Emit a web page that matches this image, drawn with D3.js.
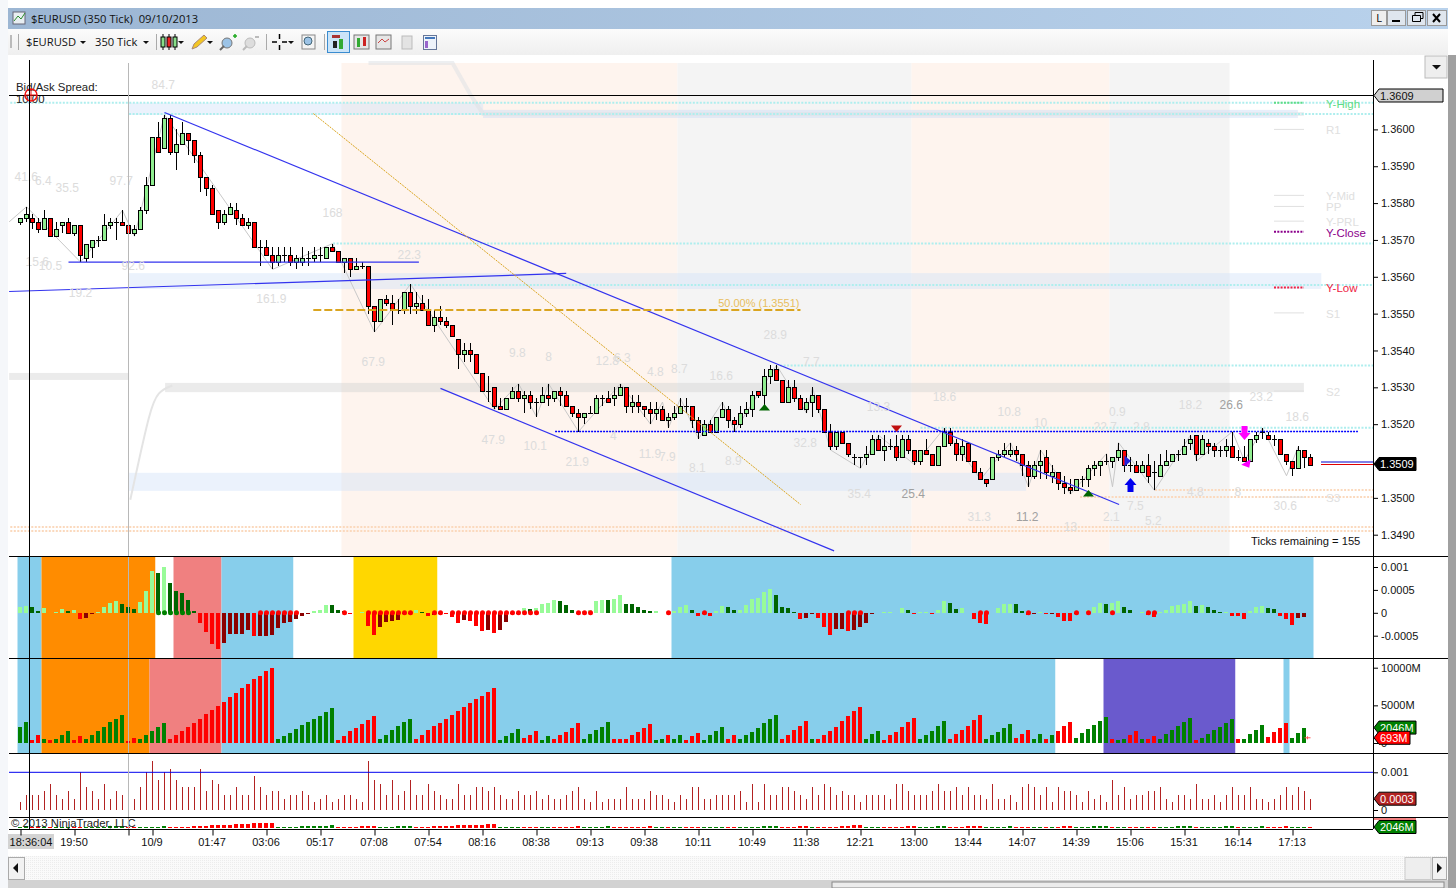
<!DOCTYPE html>
<html>
<head>
<meta charset="utf-8">
<title>$EURUSD (350 Tick)</title>
<script src="https://cdn.jsdelivr.net/npm/d3@7"></script>
<style>
  body { margin: 0; background: #fff; }
  svg { display: block; }
  text { font-family: "Liberation Sans", Arial, sans-serif; }
  .ui text, text.ui { font-family: "Open Sans", sans-serif; }
  .tick text { font-size: 11px; fill: #111; }
  .tick line { stroke: #000; }
</style>
</head>
<body>
<svg id="chart" width="1456" height="888"></svg>
<script>
// candles, in points above 1.3000 (350 tick bars, 4 decimals)
var openPts = [
  575,576,576,575,573,576,571,574,575,572, 574,565,568,570,570,574,575,575,574,572,
  573,578,585,598,595,603,594,596,599,597, 593,587,584,578,575,577,578,576,574,575,
  568,568,566,564,566,566,564,564,565,565, 566,565,568,567,564,565,562,563,563,552,
  548,554,553,551,551,556,552,553,551,547, 549,548,547,543,539,540,539,534,529,530,
  525,524,527,529,527,528,526,526,528,527, 529,528,525,523,522,523,523,527,527,527,
  528,530,525,526,525,524,523,524,521,522, 523,525,525,521,517,520,518,522,524,521,
  520,523,524,529,528,533,535,532,526,530, 527,524,526,528,524,518,514,518,515,511,
  511,511,512,516,513,514,514,511,516,513, 510,513,512,509,514,518,515,512,515,510,
  507,505,505,511,512,512,513,512,509,506, 509,511,506,507,504,503,502,505,505,508,
  509,510,510,511,513,509,509,507,509,507, 506,509,510,512,512,515,517,512,515,514,
  513,513,514,511,511,510,516,518,517,516, 516,512,510,508,513,511];
var highPts = [
  576,579,577,576,578,576,575,575,576,574, 574,569,570,571,577,576,576,578,576,574,
  579,587,598,602,604,604,600,602,599,597, 594,587,585,578,578,580,580,577,576,575,
  570,570,568,568,568,568,566,568,567,568, 568,568,569,567,565,565,565,564,563,552,
  554,555,555,554,556,558,556,555,554,551, 552,549,547,543,542,542,539,534,533,530,
  527,527,530,531,529,529,527,530,531,529, 530,529,525,524,523,525,528,528,529,530,
  531,530,528,528,525,526,526,525,523,525, 527,527,525,522,521,521,522,526,525,522,
  525,526,529,529,535,536,536,532,532,532, 528,527,530,528,524,520,518,518,515,512,
  511,514,517,517,517,516,517,517,517,513, 513,516,512,514,519,519,516,516,515,510,
  508,505,511,513,515,515,514,512,510,510, 513,513,509,507,506,505,505,506,509,510,
  510,512,511,515,513,511,510,510,512,510, 512,513,512,513,516,517,517,517,516,515,
  514,516,518,513,514,516,518,519,518,517, 516,512,510,514,513,512];
var lowPts = [
  574,575,573,572,573,571,571,572,572,571, 564,564,565,568,570,573,570,574,572,571,
  573,577,585,594,595,593,589,596,593,591, 583,582,577,573,574,577,574,574,573,568,
  563,566,562,563,564,563,562,563,563,564, 564,565,567,564,561,560,562,562,550,545,
  548,552,547,550,550,550,550,551,547,545, 547,546,544,535,537,537,534,529,526,524,
  524,524,527,526,523,524,522,526,525,526, 525,525,522,518,520,523,523,525,526,525,
  528,523,523,523,522,520,521,521,519,521, 523,523,519,516,517,518,518,522,519,518,
  519,522,522,527,525,531,532,526,526,526, 524,523,522,523,518,513,513,515,511,509,
  508,509,512,513,510,513,510,511,512,509, 509,512,509,509,514,514,510,510,510,507,
  505,503,505,510,511,511,510,506,503,505, 505,505,504,502,501,501,502,503,503,506,
  506,509,508,510,507,507,507,507,504,502, 506,509,510,510,512,513,510,512,512,511,
  511,511,511,510,510,510,515,516,516,514, 512,509,506,508,508,509];
var closePts = [
  576,577,575,573,576,571,573,575,572,574, 566,569,570,570,574,575,575,574,572,573,
  578,585,598,594,603,594,596,599,597,593, 587,584,577,575,577,579,576,574,575,568,
  568,566,564,566,566,564,565,565,565,566, 566,568,567,564,565,562,563,563,552,548,
  554,553,551,551,556,552,553,551,547,549, 548,547,544,539,540,539,534,529,529,525,
  524,527,529,527,528,526,526,528,527,529, 528,525,523,522,523,523,527,527,526,528,
  530,525,526,525,524,523,524,521,522,523, 525,525,521,518,520,518,522,524,521,520,
  523,524,528,528,533,535,532,526,530,527, 524,526,528,524,518,514,518,515,512,511,
  511,512,516,513,514,514,511,516,513,510, 513,512,509,514,518,515,512,514,510,507,
  505,504,511,512,513,513,512,509,506,509, 510,507,507,504,503,502,505,505,508,509,
  510,510,511,513,509,509,507,509,506,507, 509,510,512,512,514,516,512,516,514,513,
  513,514,511,511,510,516,517,518,516,516, 512,510,508,513,511,509];

// volume per bar, in millions, and up/down runs [side, number of bars]
var volumes = [
  2080,2750,350,1020,490,350,490,1020,1550,350, 890,490,1020,1550,2080,2750,3150,3680,220,620,
  490,1020,1550,2080,2610,490,1020,1550,2080,2610, 3150,3810,4340,4870,5400,6070,6600,7270,7800,8460,
  8860,9520,9920,490,890,1280,1820,2350,2750,3150, 3540,4080,4610,350,890,1550,1950,2480,3010,3540,
  490,1020,1680,2210,2750,3150,490,1020,1680,2210, 2610,3150,3680,4210,4740,5270,5800,6200,6730,7270,
  350,890,1280,1820,620,1020,1550,350,890,490, 1020,1420,1950,2610,490,1150,1680,2080,2750,490,
  490,490,1020,1420,1950,2480,350,490,1020,490, 1020,350,890,1280,350,1020,1550,2080,490,1020,
  490,1020,1420,1950,2610,3150,3680,490,1020,1680, 2210,2880,490,490,1020,1550,2080,2880,3540,4210,
  4740,490,1150,1550,350,1020,1420,2080,2750,3280, 490,1020,1550,2210,2880,490,1150,1680,2210,3010,
  3680,490,1020,1420,1950,2480,620,1150,1680,490, 1150,490,1020,1550,2210,2750,620,1280,1820,2350,
  2880,3410,490,350,490,1020,1550,490,490,890, 490,1150,1680,2210,2750,3280,350,620,1150,1680,
  2080,2610,3150,490,490,1150,1680,2350,750,1420, 1950,2610,620,1280,2046,693];
var volumeRuns = [
  ["G",2],["R",2],["G",1],["R",1],["G",3],["R",2],["G",7],["R",2],["G",5],["R",18],["G",10],["R",7],
  ["G",6],["R",14],["G",4],["R",3],["G",2],["R",5],["G",5],["R",7],["G",2],["R",1],["G",2],["R",3],
  ["G",4],["R",2],["G",7],["R",5],["G",1],["R",8],["G",3],["R",6],["G",5],["R",6],["G",5],["R",3],
  ["G",2],["R",1],["G",1],["R",3],["G",6],["R",1],["G",2],["R",2],["G",1],["R",2],["G",6],["R",1],
  ["G",6],["R",1],["G",4],["R",4],["G",3],["R",1]];

// histogram oscillator of the first lower panel
var oscValues = [
  .00012,.00015,.00012,.00005,.00011,0,.00001,.00009,.00004,.00007,
  -.00014,-.00012,-.00002,.00001,.00013,.00022,.00025,.0002,.00012,.00009,
  .00024,.00048,.00091,.00086,.00099,.00065,.00048,.00044,.00029,.00005,
  -.00023,-.00041,-.00068,-.00078,-.00067,-.00047,-.00047,-.00047,-.00038,-.00051,
  -.00051,-.00051,-.00049,-.00034,-.00023,-.00021,-.00013,-.00008,-.00002,.00004,
  .00007,.00016,.00016,.00007,.00003,-.00001,0,.00001,-.00029,-.00049,
  -.00032,-.0002,-.00017,-.00015,-.00002,-.00001,.00006,.00002,-.00007,-.00004,
  -.00001,-.00002,-.00009,-.00022,-.00016,-.00017,-.00028,-.0004,-.00038,-.00044,
  -.00038,-.0002,-.00001,-.00001,.0001,.00009,.0001,.0002,.00021,.00029,
  .00026,.00018,.00007,-.00001,.00004,.00007,.00025,.00029,.00028,.0003,
  .00038,.0002,.00019,.00012,.00007,.00003,.00004,0,0,.00004,
  .00013,.00016,.00006,-.00007,-.00003,-.00007,.00004,.00015,.00012,.00006,
  .00007,.00016,.0003,.00032,.00046,.00051,.00038,.00012,.00011,.00001,
  -.00013,-.00011,-.00002,-.00011,-.0003,-.00049,-.00035,-.00035,-.00039,-.00038,
  -.00032,-.00022,-.00001,0,.00001,.00002,0,.0001,.00007,-.00002,
  .00001,.00002,-.00002,.00007,.00026,.00022,.00009,.0001,0,-.00013,
  -.00022,-.00025,0,.0001,.00019,.0002,.00019,.00004,-.00004,-.00001,
  .00001,-.00002,-.00002,-.0001,-.00017,-.00018,-.00003,0,.00006,.00013,
  .00022,.00019,.00022,.00025,.00013,.00007,0,.00001,-.00004,-.00009,
  .00001,.00006,.00015,.00016,.0002,.00025,.00015,.00016,.00012,.00006,
  .00001,.00002,-.00006,-.00007,-.00013,.00004,.00012,.00015,.0001,.00009,
  -.00006,-.00013,-.00026,-.00012,-.0001,0];
var greenDots = [23,24,25,26,27,28];
var redDots = [40,41,42,43,44,45,46,54,58,59,60,61,62,63,64,65,69,70,72,73,74,75,76,77,78,79,80,81,82,83,84,85,86,
  93,94,95,108,114,138,139,140,160,161,168,176,178,182,188,189];

// range of each bar in points
var rangePts = [
  2,4,4,4,5,7,4,3,5,3, 10,6,5,3,7,3,5,4,3,3, 6,10,13,8,10,11,8,6,6,6, 11,5,8,7,4,4,6,4,4,9,
  6,4,5,5,3,4,4,5,4,2, 3,4,2,3,4,4,3,2,13,8, 7,4,8,4,5,8,4,4,7,5, 4,3,3,7,4,4,6,6,5,6,
  4,3,3,5,4,4,5,3,4,3, 3,4,5,6,3,2,5,2,3,3, 3,6,3,3,3,5,4,4,3,2, 4,3,6,6,3,3,4,4,4,4,
  5,2,7,2,7,4,4,6,6,5, 4,3,6,4,7,6,4,5,4,4, 2,4,4,4,4,3,7,7,5,4, 4,4,5,7,5,5,6,4,6,4,
  4,3,7,3,3,4,2,6,7,6, 4,6,2,6,5,5,4,2,5,3, 4,2,8,4,6,3,4,4,5,5, 6,3,2,4,4,3,7,3,3,4,
  2,4,6,4,4,6,3,3,2,3, 4,6,4,6,5,3];

// colour state of the lower panels: first bar of each stretch and its colour
var oscStateStarts = [0,4,23,26,34,46,56,70,109,216];
var oscStateColors = ["#87ceeb","#ff8c00","#fff","#f08080","#87ceeb","#fff","#ffd700","#fff","#87ceeb"];
var volStateStarts = [0,4,22,34,173,181,203,211,212];
var volStateColors = ["#87ceeb","#ff8c00","#f08080","#87ceeb","#fff","#6a5acd","#fff","#87ceeb"];

// trading sessions behind the candles
var sessionStarts = [53.5,109.5,148.5,181.5,201.5];
var sessionColors = ["#fef4ee","#f4f4f4","#fef4ee","#f4f4f4"];

// zones, levels and drawn lines, [bar, price]
var zoneStart = [18.1,77.1,18.1,18.1,24.1,-1.9];
var zoneEnd = [77.1,212.9,216.8,167.6,213.9,18.1];
var zoneHigh = [1.36072,1.36053,1.3561,1.35068,1.35312,1.35339];
var zoneLow = [1.36039,1.36031,1.35567,1.35019,1.35287,1.3532];
var zoneColors = ["#cfe0f7","#c9d9f2","#cfe0f7","#cfe0f7","#d0d0d0","#d0d0d0"];

var cyanLevels = [1.36072,1.36042,1.3569,1.35578,1.35359,1.3519];
var cyanStartBars = [-1.7,18.1,52.1,63.3,126.6,150];
var peachLevels = [1.35021,1.35002,1.34921,1.3491];
var peachStartBars = [189.1,176.6,-1.7,-1.7];

var pivotNames = ["Y-High","R1","Y-Mid","PP","Y-PRL","Y-Close","Y-Low","S1","S2","S3"];
var pivotPrices = [1.36072,1.36,1.35821,1.35791,1.35751,1.35722,1.35571,1.35502,1.3529,1.35002];
var pivotColors = ["#5fdc85","#e0e0e0","#e0e0e0","#e0e0e0","#e0e0e0","#8b008b","#ee2244","#e0e0e0","#e0e0e0","#e0e0e0"];

var blueLines = [
  [[24,1.36046],[183.1,1.34982]],
  [[70,1.35297],[135.6,1.34856]],
  [[8,1.3564],[66.4,1.3564]],
  [[-1.9,1.3556],[90.95,1.35609]]];
var supportLine = [[89.1,1.3518],[222.9,1.3518]];
var fibDiagonal = [[48.8,1.36043],[130,1.34982]];
var fibLevel = [[48.8,1.3551],[130,1.3551]];
var hiddenAverage = [[58,1.3618],[72,1.3618],[75,1.36094],[77.1,1.36042],[213.9,1.36042]];
var riseCurve = [[18.3,1.34995],[19.1,1.35054],[21.6,1.3524],[22.9,1.35289],[25.3,1.35305]];

// zigzag swing points
var zigBars = [-1.9,1,10,17,19,24,42,52,59,65,79,83,86,88,93,100,105,107,108,110,113,117,119,126,131,132,135,
  140,143,149,154,160,165,168,170,175,181,182,183,189,195,196,202,204,207,211,213];
var zigPrices = [1.35749,1.3579,1.3564,1.3578,1.3571,1.3604,1.3562,1.3569,1.3545,1.3558,1.3524,1.3531,1.3522,1.3531,
  1.3518,1.3531,1.352,1.3526,1.3519,1.3527,1.3516,1.3526,1.3518,1.3536,1.3523,1.353,1.3513,1.3508,1.3517,1.3509,
  1.3519,1.3505,1.3515,1.3503,1.3513,1.3501,1.3512,1.3503,1.3515,1.3502,1.3517,1.351,1.3518,1.351,1.3519,1.3506,1.3514];

// swing size labels
var swingText = ["84.7","41.6","6.4","35.5","97.7","168","15.6","10.5","92.6","22.3","19.2","161.9","67.9","9.8","8",
  "12.8","6.3","4.8","8.7","16.6","28.9","7.7","47.9","10.1","4","21.9","11.9","7.9","8.1","8.9","32.8","13.3","18.6",
  "10.8","10","22.7","2.8","0.9","18.2","26.6","23.2","18.6","35.4","25.4","31.3","11.2","13","2.1","7.5","5.2","4.8","8","30.6"];
var swingBars = [23.8,.95,3.8,7.8,16.8,52,2.8,5,18.8,64.8,10,41.8,58.8,82.8,88,97.8,100.3,105.8,109.8,116.8,125.8,131.8,
  78.8,85.8,98.8,92.8,104.9,107.8,112.8,118.8,130.8,143,154,164.8,170,180.8,186.8,182.8,195,201.8,206.8,212.8,139.8,
  148.8,159.8,167.8,175,181.8,185.8,188.8,195.8,202.9,210.8];
var swingPrices = [1.3612,1.35871,1.3586,1.35841,1.3586,1.35773,1.3564,1.35629,1.35629,1.35659,1.35556,1.3554,1.35369,
  1.35393,1.35382,1.35371,1.3538,1.35342,1.3535,1.35331,1.35442,1.35369,1.35157,1.35141,1.35168,1.35097,1.35119,1.35111,
  1.35081,1.351,1.35149,1.35247,1.35274,1.35233,1.35203,1.35192,1.35192,1.35233,1.35252,1.35252,1.35274,1.3522,1.35011,
  1.35011,1.34948,1.34948,1.34921,1.34948,1.34978,1.34937,1.35016,1.35016,1.34978];
var strongSwings = ["25.4","11.2","26.6"];

// time axis
var timeBars = [0,9,18,22,32,41,50,59,68,77,86,95,104,113,122,131,140,149,158,167,176,185,194,203,212];
var timeLabels = ["18:36:04","19:50","","10/9","01:47","03:06","05:17","07:08","07:54","08:16","08:38","09:13","09:38",
  "10:11","10:49","11:38","12:21","13:00","13:44","14:07","14:39","15:06","15:31","16:14","17:13"];

// 1.3510 sits under the last price tag
var priceTicks = [1.36,1.359,1.358,1.357,1.356,1.355,1.354,1.353,1.352,1.35,1.349];
var oscTicks = [0.001,0.0005,0,-0.0005];
var oscTickLabels = ["0.001","0.0005","0","-0.0005"];
var volTicks = [10000,5000,0];
var rangeTicks = [10,0];

var candleOpen = openPts.map(toPrice), candleHigh = highPts.map(toPrice);
var candleLow = lowPts.map(toPrice), candleClose = closePts.map(toPrice);

function toPrice(p) { return 1.3 + p / 10000; }

var svg = d3.select("#chart");
var AXIS_X = 1373, LEFT = 9, RIGHT_EDGE = 1448;

var x = d3.scaleLinear().domain([0, 215]).range([20.5, 1310.5]);
var yPrice = d3.scaleLinear().domain([1.349, 1.36]).range([534.7, 129.4]);
var yOsc = d3.scaleLinear().domain([-0.0005, 0.001]).range([635.7, 567]);
var yVol = d3.scaleLinear().domain([0, 10000]).range([743, 667.7]);
var yRange = d3.scaleLinear().domain([0, 10]).range([810, 772.3]);
var yMini = d3.scaleLinear().domain([0, 10000]).range([827.6, 822.6]);

var volumeSide = [];
volumeRuns.forEach(function (r) { for (var k = 0; k < r[1]; k++) volumeSide.push(r[0]); });

var priceLine = d3.line().x(function (d) { return x(d[0]); }).y(function (d) { return yPrice(d[1]); });

function DrawWindow() {
    var defs = svg.append("defs");
    var t = defs.append("linearGradient").attr("id", "titleGrad");
    t.append("stop").attr("offset", "0").attr("stop-color", "#9cb6d3");
    t.append("stop").attr("offset", "1").attr("stop-color", "#b9d2ec");
    var b = defs.append("linearGradient").attr("id", "barGrad").attr("x2", 0).attr("y2", 1);
    b.append("stop").attr("offset", "0").attr("stop-color", "#fbfbfb");
    b.append("stop").attr("offset", "1").attr("stop-color", "#efefef");
    var h = defs.append("pattern").attr("id", "hatch").attr("width", 2).attr("height", 2).attr("patternUnits", "userSpaceOnUse");
    h.append("rect").attr("width", 2).attr("height", 2).attr("fill", "#fafafa");
    h.append("rect").attr("width", 1).attr("height", 1).attr("fill", "#ececec");

    var ui = svg.append("g").attr("class", "ui");
    ui.append("rect").attr("x", 0).attr("y", 0).attr("width", 8).attr("height", 888).attr("fill", "#f5f7fa");
    ui.append("rect").attr("x", 8).attr("y", 8).attr("width", 1440).attr("height", 21).attr("fill", "url(#titleGrad)");
    ui.append("rect").attr("x", 8).attr("y", 29).attr("width", 1440).attr("height", 26).attr("fill", "url(#barGrad)");
    ui.append("rect").attr("x", 1448).attr("y", 55).attr("width", 8).attr("height", 833).attr("fill", "#a0a0a0");

    // title
    ui.append("rect").attr("x", 13).attr("y", 12).attr("width", 12).attr("height", 12).attr("fill", "#e8eef2").attr("stroke", "#667");
    ui.append("path").attr("d", "M14,21L18,16L21,19L25,13").attr("fill", "none").attr("stroke", "#2a8c2a");
    ui.append("text").attr("x", 31).attr("y", 22.5).attr("font-size", 11.2).attr("fill", "#111").text("$EURUSD (350 Tick)\u00a0 09/10/2013");

    // window buttons
    var bx = [1371, 1387, 1407, 1427], bw = [15, 18, 18, 19];
    bx.forEach(function (v, i) {
        ui.append("rect").attr("x", v + .5).attr("y", 10.5).attr("width", bw[i]).attr("height", 15)
            .attr("fill", i == 0 ? "#eee" : "#dfe6ee").attr("stroke", "#999");
    });
    ui.append("text").attr("x", 1379).attr("y", 22).attr("text-anchor", "middle").attr("font-size", 11).text("L");
    ui.append("rect").attr("x", 1392).attr("y", 20).attr("width", 8).attr("height", 2).attr("fill", "#000");
    ui.append("path").attr("d", "M1412.5,15.5h8v6h-8zM1415,15v-2.5h8v6h-2").attr("fill", "none").attr("stroke", "#000");
    ui.append("path").attr("d", "M1433,14l7,8M1440,14l-7,8").attr("stroke", "#000").attr("stroke-width", 2);

    // toolbar
    ui.append("text").attr("x", 26).attr("y", 46).attr("font-size", 11.2).attr("fill", "#111").text("$EURUSD");
    ui.append("text").attr("x", 95).attr("y", 46).attr("font-size", 11.2).attr("fill", "#111").text("350 Tick");
    [83, 146, 181, 210, 291].forEach(function (v) {
        ui.append("path").attr("d", "M" + (v - 3) + ",41h6l-3,3z").attr("fill", "#111");
    });
    [18, 156, 266, 324].forEach(function (v) {
        ui.append("rect").attr("x", v).attr("y", 34).attr("width", 1).attr("height", 16).attr("fill", "#aaa");
    });
    ui.append("rect").attr("x", 10).attr("y", 35).attr("width", 2).attr("height", 13).attr("fill", "#bbb");
    [163, 169, 175].forEach(function (v, i) {
        ui.append("line").attr("x1", v).attr("x2", v).attr("y1", 34).attr("y2", 50).attr("stroke", "#000");
        ui.append("rect").attr("x", v - 2).attr("y", 37).attr("width", 4).attr("height", 10)
            .attr("fill", i == 1 ? "#e22" : "#8d8").attr("stroke", "#000");
    });
    ui.append("path").attr("d", "M192,49l2,-5l10,-9l3,3l-10,9z").attr("fill", "#f3c623").attr("stroke", "#a87");
    ui.append("circle").attr("cx", 227).attr("cy", 43).attr("r", 5).attr("fill", "#9cc3e6").attr("stroke", "#777");
    ui.append("path").attr("d", "M224,46l-4,4").attr("stroke", "#666").attr("stroke-width", 2);
    ui.append("path").attr("d", "M233,36h4M235,34v4").attr("stroke", "#2a2").attr("stroke-width", 1.5);
    ui.append("circle").attr("cx", 250).attr("cy", 43).attr("r", 5).attr("fill", "#ddd").attr("stroke", "#bbb");
    ui.append("path").attr("d", "M247,46l-4,4M255,37h4").attr("stroke", "#bbb").attr("stroke-width", 2);
    ui.append("path").attr("d", "M272,42h5M282,42h5M279.5,34v5M279.5,45v5").attr("stroke", "#000").attr("stroke-width", 1.5);
    ui.append("rect").attr("x", 302).attr("y", 35).attr("width", 13).attr("height", 14).attr("fill", "#f4f4f4").attr("stroke", "#888");
    ui.append("circle").attr("cx", 308).attr("cy", 41).attr("r", 4).attr("fill", "#9cc3e6").attr("stroke", "#467");
    ui.append("rect").attr("x", 327.5).attr("y", 31.5).attr("width", 22).attr("height", 21).attr("fill", "#cbe4f8").attr("stroke", "#3a8cd0");
    ui.append("rect").attr("x", 332).attr("y", 35).attr("width", 8).attr("height", 3).attr("fill", "#a33");
    ui.append("rect").attr("x", 339).attr("y", 39).attr("width", 4).attr("height", 10).attr("fill", "#3a3");
    ui.append("rect").attr("x", 333).attr("y", 41).attr("width", 4).attr("height", 7).attr("fill", "#222");
    ui.append("rect").attr("x", 354).attr("y", 35).attr("width", 15).attr("height", 14).attr("fill", "#e6e6e6").attr("stroke", "#777");
    ui.append("rect").attr("x", 357).attr("y", 38).attr("width", 3).attr("height", 9).attr("fill", "#3a3");
    ui.append("rect").attr("x", 363).attr("y", 37).attr("width", 3).attr("height", 9).attr("fill", "#c22");
    ui.append("rect").attr("x", 376).attr("y", 35).attr("width", 15).attr("height", 14).attr("fill", "#e6e6e6").attr("stroke", "#777");
    ui.append("path").attr("d", "M378,43l4,-4l3,3l4,-3").attr("fill", "none").attr("stroke", "#c44");
    ui.append("rect").attr("x", 402).attr("y", 36).attr("width", 10).attr("height", 13).attr("fill", "#e3e3e3").attr("stroke", "#bbb");
    ui.append("rect").attr("x", 423.5).attr("y", 35.5).attr("width", 13).attr("height", 14).attr("fill", "#eef3fa").attr("stroke", "#667799");
    ui.append("rect").attr("x", 425).attr("y", 37).attr("width", 10).attr("height", 2).attr("fill", "#4477bb");
    ui.append("rect").attr("x", 425).attr("y", 41).attr("width", 3).attr("height", 7).attr("fill", "#9966cc");

    // drop down at the top right of the price scale
    ui.append("rect").attr("x", 1425).attr("y", 56).attr("width", 22).attr("height", 22).attr("fill", "#eee").attr("stroke", "#bbb");
    ui.append("path").attr("d", "M1432,65h9l-4.5,4.5z").attr("fill", "#111");

    // scroll bar
    ui.append("rect").attr("x", 8).attr("y", 856).attr("width", 1440).attr("height", 24).attr("fill", "url(#hatch)");
    ui.append("rect").attr("x", 8.5).attr("y", 857.5).attr("width", 16).attr("height", 22).attr("fill", "#f2f2f2").attr("stroke", "#aaa");
    ui.append("path").attr("d", "M18,863v10l-5,-5z").attr("fill", "#111");
    ui.append("rect").attr("x", 1405).attr("y", 857.5).attr("width", 26).attr("height", 22).attr("fill", "#eee").attr("stroke", "#ccc");
    ui.append("rect").attr("x", 1432.5).attr("y", 857.5).attr("width", 14).attr("height", 22).attr("fill", "#f2f2f2").attr("stroke", "#aaa");
    ui.append("path").attr("d", "M1437,863v10l5,-5z").attr("fill", "#111");
    ui.append("rect").attr("x", 8).attr("y", 880).attr("width", 1440).attr("height", 8).attr("fill", "#d2d2d2");
    ui.append("rect").attr("x", 832).attr("y", 882).attr("width", 612).attr("height", 6).attr("fill", "#ececec").attr("stroke", "#888");
}

function DrawPricePanel() {
    var g = svg.append("g");

    // sessions
    g.selectAll("rect.session").data(sessionColors).enter().append("rect")
        .attr("class", "session")
        .attr("x", function (d, i) { return x(sessionStarts[i]); })
        .attr("width", function (d, i) { return x(sessionStarts[i + 1]) - x(sessionStarts[i]); })
        .attr("y", 63).attr("height", 493)
        .attr("fill", function (d) { return d; });

    // zones
    g.selectAll("rect.zone").data(zoneColors).enter().append("rect")
        .attr("class", "zone")
        .attr("x", function (d, i) { return x(zoneStart[i]); })
        .attr("width", function (d, i) { return x(zoneEnd[i]) - x(zoneStart[i]); })
        .attr("y", function (d, i) { return yPrice(zoneHigh[i]); })
        .attr("height", function (d, i) { return yPrice(zoneLow[i]) - yPrice(zoneHigh[i]); })
        .attr("fill", function (d) { return d; })
        .attr("opacity", 0.42);

    g.append("path").attr("d", priceLine(hiddenAverage)).attr("fill", "none")
        .attr("stroke", "#dfe2e6").attr("stroke-width", 4).attr("opacity", 0.55);
    g.append("path").attr("d", d3.line().x(function (d) { return x(d[0]); }).y(function (d) { return yPrice(d[1]); })
        .curve(d3.curveBasis)(riseCurve)).attr("fill", "none").attr("stroke", "#e4e4e4").attr("stroke-width", 2);

    // dotted levels
    g.selectAll("line.cyan").data(cyanLevels).enter().append("line")
        .attr("x1", function (d, i) { return x(cyanStartBars[i]); }).attr("x2", AXIS_X)
        .attr("y1", function (d) { return yPrice(d); }).attr("y2", function (d) { return yPrice(d); })
        .attr("stroke", "#aeeeee").attr("stroke-width", 2).attr("stroke-dasharray", "2 1.5");
    g.selectAll("line.peach").data(peachLevels).enter().append("line")
        .attr("x1", function (d, i) { return x(peachStartBars[i]); }).attr("x2", AXIS_X)
        .attr("y1", function (d) { return yPrice(d); }).attr("y2", function (d) { return yPrice(d); })
        .attr("stroke", "#fbd9bd").attr("stroke-width", 2).attr("stroke-dasharray", "2 1.5");

    // pivots on the right
    pivotNames.forEach(function (name, i) {
        var py = yPrice(pivotPrices[i]);
        var strong = pivotColors[i] != "#e0e0e0";
        g.append("line").attr("x1", 1274).attr("x2", 1304).attr("y1", py).attr("y2", py)
            .attr("stroke", pivotColors[i]).attr("stroke-width", strong ? 2 : 1)
            .attr("stroke-dasharray", strong ? "2 1.3" : null);
        g.append("text").attr("x", 1326).attr("y", py + 5).attr("font-size", 11.5)
            .attr("fill", pivotColors[i]).text(name);
    });

    // zigzag
    var zig = zigBars.map(function (b, i) { return [b, zigPrices[i]]; });
    g.append("path").attr("d", priceLine(zig)).attr("fill", "none").attr("stroke", "#c8c8c8").attr("stroke-width", 1);

    // candles
    var bars = g.selectAll("g.bar").data(candleOpen).enter().append("g").attr("class", "bar");
    bars.append("line")
        .attr("x1", function (d, i) { return x(i); }).attr("x2", function (d, i) { return x(i); })
        .attr("y1", function (d, i) { return Math.round(yPrice(candleHigh[i])); })
        .attr("y2", function (d, i) { return Math.round(yPrice(candleLow[i])); })
        .attr("stroke", "#000");
    bars.each(function (o, i) {
        var top = Math.round(yPrice(Math.max(o, candleClose[i]))) + .5;
        var bottom = Math.round(yPrice(Math.min(o, candleClose[i]))) + .5;
        if (openPts[i] == closePts[i]) {
            d3.select(this).append("line").attr("x1", x(i) - 2.5).attr("x2", x(i) + 2.5)
                .attr("y1", top).attr("y2", top).attr("stroke", "#000");
        } else {
            d3.select(this).append("rect").attr("x", x(i) - 2).attr("y", top).attr("width", 4).attr("height", bottom - top)
                .attr("fill", closePts[i] > openPts[i] ? "#90ee90" : "#ff0000").attr("stroke", "#000");
        }
    });

    // drawn lines
    blueLines.forEach(function (l) {
        g.append("path").attr("d", priceLine(l)).attr("stroke", "#3333ee").attr("stroke-width", 1.2).attr("fill", "none");
    });
    g.append("path").attr("d", priceLine(supportLine)).attr("stroke", "#0000ff").attr("stroke-width", 1.4).attr("stroke-dasharray", "2 1").attr("fill", "none");
    g.append("path").attr("d", priceLine(fibDiagonal)).attr("stroke", "#daa520").attr("stroke-dasharray", "2 1").attr("fill", "none");
    g.append("path").attr("d", priceLine(fibLevel)).attr("stroke", "#daa520").attr("stroke-width", 2).attr("stroke-dasharray", "8 3").attr("fill", "none");
    g.append("text").attr("x", x(fibLevel[1][0]) - 1).attr("y", yPrice(fibLevel[1][1]) - 3).attr("text-anchor", "end")
        .attr("font-size", 11).attr("fill", "#e8be5e").text("50.00% (1.3551)");

    // swing labels
    g.selectAll("text.swing").data(swingText).enter().append("text")
        .attr("class", "swing")
        .attr("x", function (d, i) { return x(swingBars[i]); })
        .attr("y", function (d, i) { return yPrice(swingPrices[i]) + 4; })
        .attr("text-anchor", "middle").attr("font-size", 12)
        .attr("fill", function (d) { return strongSwings.indexOf(d) >= 0 ? "#a0a0a0" : "#dcdcdc"; })
        .text(function (d) { return d; });

    // signal markers
    Marker(g, 124, 1.35245, "#006400", 0);
    Marker(g, 178, 1.35012, "#006400", 0);
    Marker(g, 146, 1.35188, "#c01010", 180);
    Marker(g, 184.5, 1.351, "#2222dd", 90);
    Marker(g, 204.5, 1.3509, "#ff00ff", 150);
    Arrow(g, 185, 1.35054, "#0000ee", 1);
    Arrow(g, 204, 1.35157, "#ff00ff", -1);

    // bid/ask text and crosshair
    g.append("text").attr("x", 16).attr("y", 91).attr("font-size", 11.4).attr("fill", "#222").text("Bid/Ask Spread:");
    g.append("text").attr("x", 16).attr("y", 103).attr("font-size", 11.4).attr("fill", "#222").text("10.00");
    g.append("line").attr("x1", LEFT).attr("x2", AXIS_X).attr("y1", 95.5).attr("y2", 95.5).attr("stroke", "#000");
    g.append("circle").attr("cx", 31).attr("cy", 95).attr("r", 6).attr("fill", "none").attr("stroke", "#ee1111").attr("stroke-width", 1.5);
    g.append("path").attr("d", "M25,95h12M31,89v12").attr("stroke", "#ee1111");

    g.append("text").attr("x", 1251).attr("y", 545).attr("font-size", 11.2).attr("fill", "#111").text("Ticks remaining = 155");

    // last price stubs
    g.append("line").attr("x1", 1321).attr("x2", AXIS_X).attr("y1", 462).attr("y2", 462).attr("stroke", "#0000cc");
    g.append("line").attr("x1", 1321).attr("x2", AXIS_X).attr("y1", 464.5).attr("y2", 464.5).attr("stroke", "#e00000");

    g.append("g").attr("transform", "translate(" + AXIS_X + ",0)")
        .call(d3.axisRight(yPrice).tickValues(priceTicks).tickFormat(d3.format(".4f")).tickSize(5).tickPadding(3))
        .call(function (a) { a.select(".domain").remove(); });

    Tag(95.5, 1443, "#d0d0d0", "#000", "1.3609", "#111");
    Tag(464, 1416, "#000", "#000", "1.3509", "#fff");
}

// flat triangle, rotated to point the way the signal goes
function Marker(g, bar, price, color, angle) {
    g.append("path").attr("d", "M0,-3.5L5.5,3H-5.5Z")
        .attr("transform", "translate(" + x(bar) + "," + yPrice(price) + ") rotate(" + angle + ")")
        .attr("fill", color);
}

function Arrow(g, bar, price, color, dir) {
    var s = dir;
    var p = "M0,0L6," + (7 * s) + "L3," + (7 * s) + "L3," + (14 * s) + "L-3," + (14 * s) + "L-3," + (7 * s) + "L-6," + (7 * s) + "Z";
    g.append("path").attr("d", p).attr("fill", color)
        .attr("transform", "translate(" + x(bar) + "," + yPrice(price) + ")");
}

function Tag(y, right, fill, stroke, label, color) {
    var left = AXIS_X + 1;
    var g = svg.append("g");
    g.append("path")
        .attr("d", "M" + left + "," + y + "l5,-6.5H" + right + "v13H" + (left + 5) + "z")
        .attr("fill", fill).attr("stroke", stroke);
    g.append("text").attr("x", left + 6).attr("y", y + 4).attr("font-size", 11).attr("fill", color).text(label);
}

function StateBands(starts, colors, top, bottom) {
    svg.append("g").selectAll("rect").data(colors).enter().append("rect")
        .attr("x", function (d, i) { return x(starts[i] - .5); })
        .attr("width", function (d, i) { return x(starts[i + 1] - .5) - x(starts[i] - .5); })
        .attr("y", top).attr("height", bottom - top)
        .attr("fill", function (d) { return d; });
}

function RightAxis(scale, ticks, format) {
    svg.append("g").attr("transform", "translate(" + AXIS_X + ",0)")
        .call(d3.axisRight(scale).tickValues(ticks).tickFormat(format).tickSize(5).tickPadding(3))
        .call(function (a) { a.select(".domain").remove(); });
}

function DrawOscillator() {
    StateBands(oscStateStarts, oscStateColors, 556, 658);
    var g = svg.append("g").attr("shape-rendering", "crispEdges");
    g.selectAll("rect").data(oscValues).enter().append("rect")
        .attr("x", function (d, i) { return Math.floor(x(i)) - 2; })
        .attr("width", 4)
        .attr("y", function (d) { return yOsc(Math.max(d, 0)); })
        .attr("height", function (d) { return d == 0 ? 0 : Math.max(1, Math.abs(yOsc(d) - yOsc(0))); })
        .attr("fill", function (d, i) {
            var prev = i ? oscValues[i - 1] : 0;
            if (d > 0) return d > prev ? "#98fb98" : "#006400";
            return d < prev ? "#ff0000" : "#8b0000";
        });
    var dots = svg.append("g");
    dots.selectAll("circle.g").data(greenDots).enter().append("circle")
        .attr("cx", function (d) { return x(d); }).attr("cy", yOsc(0)).attr("r", 2.5).attr("fill", "#008000");
    dots.selectAll("circle.r").data(redDots).enter().append("circle")
        .attr("cx", function (d) { return x(d); }).attr("cy", yOsc(0)).attr("r", 2.5).attr("fill", "#ff0000");
    RightAxis(yOsc, oscTicks, function (d, i) { return oscTickLabels[i]; });
}

function DrawVolume() {
    StateBands(volStateStarts, volStateColors, 658, 753);
    var last = volumes.length - 1;
    var g = svg.append("g").attr("shape-rendering", "crispEdges");
    g.selectAll("rect").data(volumes.slice(0, last)).enter().append("rect")
        .attr("x", function (d, i) { return Math.floor(x(i)) - 2; })
        .attr("width", 4)
        .attr("y", function (d) { return yVol(d); })
        .attr("height", function (d) { return yVol(0) - yVol(d); })
        .attr("fill", function (d, i) { return volumeSide[i] == "G" ? "#008000" : "#ff0000"; });
    // bar still being built
    svg.append("path").attr("d", "M" + (x(last) - 6) + "," + yVol(volumes[last]) + "h6M" + (x(last) - 3) + "," + (yVol(volumes[last]) - 1.5) + "v3")
        .attr("stroke", "#ff5555").attr("fill", "none");
    RightAxis(yVol, volTicks, function (d) { return d ? d + "M" : "0"; });
    Tag(yVol(volumes[last - 1]), 1416, "#008000", "#000", "2046M", "#fff");
    Tag(yVol(volumes[last]), 1410, "#ff0000", "#000", "693M", "#fff");
}

function DrawRange() {
    svg.append("g").attr("shape-rendering", "crispEdges").selectAll("line").data(rangePts).enter().append("line")
        .attr("x1", function (d, i) { return x(i); }).attr("x2", function (d, i) { return x(i); })
        .attr("y1", yRange(0))
        .attr("y2", function (d) { return yRange(d); })
        .attr("stroke", "#b22222");
    svg.append("line").attr("x1", LEFT).attr("x2", AXIS_X).attr("y1", yRange(10)).attr("y2", yRange(10)).attr("stroke", "#0000ee");
    RightAxis(yRange, rangeTicks, function (d) { return d ? "0.001" : "0"; });
    Tag(yRange(rangePts[rangePts.length - 1]), 1416, "#b22222", "#000", "0.0003", "#fff");
}

function DrawMiniVolume() {
    svg.append("g").attr("shape-rendering", "crispEdges").selectAll("rect").data(volumes).enter().append("rect")
        .attr("x", function (d, i) { return Math.floor(x(i)) - 2; })
        .attr("width", 4)
        .attr("y", function (d) { return yMini(d); })
        .attr("height", function (d) { return Math.max(1, yMini(0) - yMini(d)); })
        .attr("fill", function (d, i) { return volumeSide[i] == "G" ? "#008000" : "#ff0000"; });
    svg.append("text").attr("x", 11).attr("y", 827).attr("font-size", 11.3).attr("fill", "#222").text("© 2013 NinjaTrader, LLC");
    svg.append("line").attr("x1", 1374).attr("x2", 1416).attr("y1", 819).attr("y2", 819).attr("stroke", "#e00000");
    Tag(827, 1416, "#008000", "#000", "2046M", "#fff");
}

function DrawFrame() {
    var g = svg.append("g");
    // cursor lines
    g.append("line").attr("x1", 29.5).attr("x2", 29.5).attr("y1", 60).attr("y2", 829).attr("stroke", "#000");
    g.append("line").attr("x1", 128.5).attr("x2", 128.5).attr("y1", 63).attr("y2", 829).attr("stroke", "#b8b8b8");
    [556, 658, 753, 817].forEach(function (v) {
        g.append("line").attr("x1", LEFT).attr("x2", RIGHT_EDGE).attr("y1", v + .5).attr("y2", v + .5).attr("stroke", "#000");
    });
    g.append("line").attr("x1", LEFT).attr("x2", AXIS_X).attr("y1", 829.5).attr("y2", 829.5).attr("stroke", "#000");
    g.append("line").attr("x1", AXIS_X + .5).attr("x2", AXIS_X + .5).attr("y1", 60).attr("y2", 829).attr("stroke", "#000");

    g.append("rect").attr("x", 8).attr("y", 834).attr("width", 46).attr("height", 15).attr("fill", "#d3d3d3");
    var axis = g.append("g").attr("transform", "translate(0,829.5)")
        .call(d3.axisBottom(x).tickValues(timeBars).tickFormat(function (d, i) { return timeLabels[i]; }).tickSize(6).tickPadding(3));
    axis.select(".domain").remove();
    axis.selectAll(".tick text").filter(function (d) { return d == 0; }).attr("transform", "translate(11,0)");
    // labels sit about a pixel left of the tick
    axis.selectAll(".tick text").attr("dx", "-1");
}

DrawWindow();
DrawPricePanel();
DrawOscillator();
DrawVolume();
DrawRange();
DrawMiniVolume();
DrawFrame();
</script>
</body>
</html>
